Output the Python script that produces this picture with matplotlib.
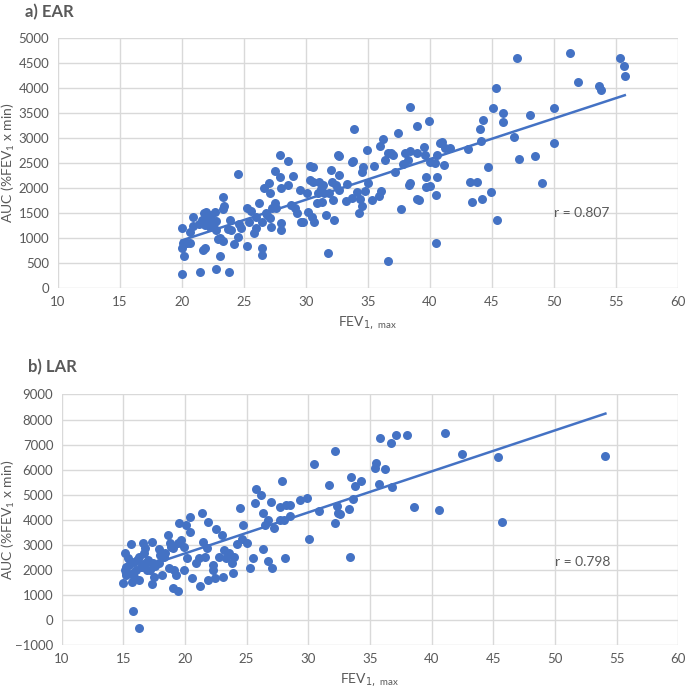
import numpy as np
import matplotlib.pyplot as plt

# a) EAR - FEV1,max vs AUC
ear_fev = [20.0, 20.0, 20.1, 20.0, 20.2, 20.4, 20.7, 20.7, 20.9, 20.9, 21.5, 21.7, 21.9, 21.6, 21.8,
           22.0, 21.9, 22.1, 22.3, 22.4, 22.7, 22.5, 22.8, 22.8, 22.8, 23.1, 22.9, 23.1, 23.3, 23.3,
           23.4, 23.3, 23.8, 23.9, 23.7, 24.0, 24.2, 24.5, 24.5, 24.6, 24.8, 25.3, 25.3, 25.4, 25.6,
           25.8, 26.0, 26.0, 26.2, 26.5, 26.5, 26.5, 26.6, 26.8, 27.0, 27.1, 27.1, 27.2, 27.5, 27.5,
           27.6, 27.9, 27.9, 28.0, 28.0, 28.0, 28.6, 28.6, 29.0, 28.8, 29.1, 29.3, 29.5, 29.6, 29.8,
           30.3, 30.6, 30.3, 30.6, 30.1, 30.2, 30.5, 30.7, 31.0, 31.1, 31.3, 31.4, 31.5, 31.6, 31.8,
           32.0, 32.1, 32.2, 32.3, 32.6, 32.7, 32.7, 32.7, 33.3, 33.2, 33.7, 33.7, 33.8, 33.9, 34.1,
           34.3, 34.4, 34.5, 34.6, 34.5, 34.9, 35.0, 34.8, 35.3, 35.5, 35.9, 36.1, 36.0, 36.2, 36.4,
           36.6, 36.6, 36.9, 37.0, 37.2, 37.4, 37.7, 37.8, 38.0, 38.2, 38.4, 38.4, 38.4, 38.3, 39.0,
           39.0, 39.1, 39.0, 39.5, 39.6, 39.7, 39.7, 39.9, 40.0, 40.0, 40.4, 40.5, 40.5, 40.6, 40.6,
           40.8, 41.0, 41.1, 41.2, 41.6, 43.1, 43.2, 43.4, 43.8, 44.0, 44.1, 44.2, 44.3, 44.7, 44.9,
           45.1, 45.3, 45.4, 45.9, 45.9, 46.8, 47.0, 47.2, 48.1, 48.5, 49.0, 50.0, 50.0, 51.3, 51.9,
           53.6, 53.8, 55.3, 55.6, 55.7,
           22.2, 22.6, 21.4, 31.9, 32.4, 31.2, 30.9, 27.3, 26.9]
ear_auc = [1200, 267, 900, 787, 633, 900, 887, 1107, 1233, 1420, 320, 753, 800, 1353, 1487,
           1520, 1253, 1353, 1220, 1453, 1507, 1340, 1340, 1153, 367, 640, 967, 987, 940, 1807,
           1633, 1567, 320, 1353, 1167, 1153, 867, 1020, 2273, 1273, 1200, 833, 1587, 1307, 1540,
           1087, 1187, 1420, 1700, 787, 653, 1307, 1987, 1487, 2087, 1387, 1900, 1220, 2340, 1687,
           1587, 2653, 2220, 1987, 1153, 1300, 2540, 2053, 2233, 1653, 1587, 1487, 1953, 1320, 1320,
           2433, 2420, 2153, 2120, 1887, 1520, 1420, 1320, 1887, 2120, 1720, 2053, 1887, 1453, 687,
           2353, 2120, 1753, 1353, 2653, 2633, 2253, 1953, 2067, 1740, 1787, 2507, 2533, 3167, 1920,
           1487, 1767, 1633, 2420, 2307, 2753, 2100, 1940, 1753, 2433, 1833, 1940, 2840, 2973, 2553,
           540, 2687, 2687, 2653, 2320, 3100, 1567, 2473, 2700, 2553, 2740, 3607, 2100, 2053, 2700,
           1767, 1753, 3240, 2820, 2653, 2220, 2007, 3333, 2033, 2520, 2487, 1853, 887, 2220, 2653,
           2887, 2907, 2460, 2800, 2787, 2767, 2120, 1720, 2120, 3173, 2940, 1767, 3353, 2420, 1920,
           3587, 3993, 1353, 3500, 3307, 3007, 4607, 2580, 3453, 2633, 2100, 3600, 2900, 4700, 4120,
           4033, 3967, 4600, 4447, 4247,
           1400, 1300, 1280, 1900, 2050, 1980, 1700, 1600, 1450]

# b) LAR
lar_fev = [15.1, 15.0, 15.2, 15.2, 15.1, 15.4, 15.6, 15.8, 15.8, 15.7, 15.9, 16.0, 16.3, 16.3, 16.3,
           16.5, 16.6, 16.7, 16.9, 16.8, 17.0, 17.3, 17.3, 17.4, 17.5, 17.9, 17.9, 18.1, 18.3, 18.4,
           18.6, 18.7, 18.8, 19.0, 19.0, 19.1, 19.3, 19.4, 19.4, 19.5, 19.7, 19.9, 19.9, 20.1, 20.2,
           20.4, 20.4, 20.6, 20.9, 21.1, 21.2, 21.4, 21.5, 21.6, 21.8, 21.9, 21.9, 22.3, 22.3, 22.4,
           22.5, 22.8, 23.0, 23.1, 23.2, 23.3, 23.6, 23.8, 23.9, 24.0, 24.2, 24.5, 24.6, 24.7, 25.0,
           25.3, 25.5, 25.7, 25.8, 26.2, 26.3, 26.3, 26.5, 26.7, 26.7, 27.0, 27.1, 27.2, 27.7, 27.7,
           27.9, 28.0, 28.1, 28.2, 28.5, 28.5, 29.3, 29.9, 30.1, 30.5, 30.9, 31.7, 32.2, 32.2, 32.3,
           32.4, 32.6, 33.3, 33.4, 33.5, 33.6, 33.8, 34.3, 35.4, 35.5, 35.7, 35.8, 36.2, 36.7, 36.8,
           37.1, 38.0, 38.6, 40.6, 41.1, 42.5, 45.4, 45.7, 54.1,
           15.5, 16.1, 16.4, 16.9, 17.2, 15.9, 16.6, 17.6, 18.0, 18.9]
lar_auc = [2660, 1490, 2128, 1796, 1995, 2460, 3032, 372, 1862, 1530, 2328, 1995, -333, 1596, 2527,
           2128, 3059, 2660, 1995, 2860, 2394, 3126, 1436, 2261, 1702, 2820, 2261, 1796, 2527, 2660,
           3392, 2062, 3059, 1264, 2860, 1995, 1796, 1170, 3059, 3884, 3192, 2926, 1995, 3791, 2460,
           3524, 4123, 1662, 2261, 2460, 1357, 4256, 3126, 2527, 2860, 3924, 1596, 1995, 2195, 1662,
           3618, 2527, 3392, 1729, 2793, 2460, 2660, 2288, 1889, 2527, 3032, 4482, 3219, 3791, 3086,
           2088, 2460, 4655, 5214, 4988, 4256, 2820, 3791, 3990, 2367, 4722, 2088, 3658, 3990, 4495,
           5546, 3990, 2460, 4588, 4588, 4150, 4788, 4855, 3219, 6224, 4362, 5387, 6756, 3857, 4549,
           4256, 4229, 4416, 2500, 5692, 4815, 5360, 5546, 6078, 6278, 5426, 7275, 6025, 7075, 5320,
           7368, 7381, 4495, 4389, 7448, 6610, 6517, 3910, 6530,
           2200, 2400, 2100, 2300, 2000, 1700, 2250, 2150, 2600, 2900]

blue = "#4472C4"
grey = "#595959"
plt.rcParams['font.family'] = ['Lato', 'DejaVu Sans']

fig = plt.figure(figsize=(6.85, 6.94), dpi=100)
ax1 = fig.add_axes([0.084, 0.5854, 0.906, 0.360])
ax2 = fig.add_axes([0.090, 0.0706, 0.900, 0.361])


def draw(ax, xs, ys, ylim, yticks, rtext, rpos, ylab_x):
    xs = np.array(xs)
    ys = np.array(ys)
    ax.scatter(xs, ys, s=42, color=blue, zorder=3, linewidths=0)
    k, b = np.polyfit(xs, ys, 1)
    xl = np.array([xs.min(), xs.max()])
    ax.plot(xl, k * xl + b, color=blue, lw=1.8, zorder=2)
    ax.set_xlim(10, 60)
    ax.set_ylim(*ylim)
    ax.set_xticks(range(10, 61, 5))
    ax.set_yticks(yticks)
    ax.grid(True, color="#D9D9D9", lw=1, zorder=0)
    ax.set_axisbelow(True)
    for s in ax.spines.values():
        s.set_visible(False)
    ax.tick_params(length=0, labelsize=9.5, colors=grey, pad=6)
    ax.set_xlabel("FEV$_{1,\\ \\mathregular{max}}$", color=grey, fontsize=10)
    ax.set_ylabel("AUC (%FEV$_\\mathregular{1}$ x min)", color=grey, fontsize=10)
    ax.yaxis.set_label_coords(ylab_x, 0.5)
    ax.text(rpos[0], rpos[1], rtext, color=grey, fontsize=10, va="center")


draw(ax1, ear_fev, ear_auc, (0, 5000), range(0, 5001, 500), "r = 0.807", (50.0, 1494), -0.066)
draw(ax2, lar_fev, lar_auc, (-1000, 9000), range(-1000, 9001, 1000), "r = 0.798", (50.0, 2323), -0.073)

fig.text(0.036, 0.982, "a) EAR", fontsize=12, fontweight="bold", color=grey, va="center")
fig.text(0.041, 0.471, "b) LAR", fontsize=12, fontweight="bold", color=grey, va="center")

fig.savefig("out.png", dpi=100)
